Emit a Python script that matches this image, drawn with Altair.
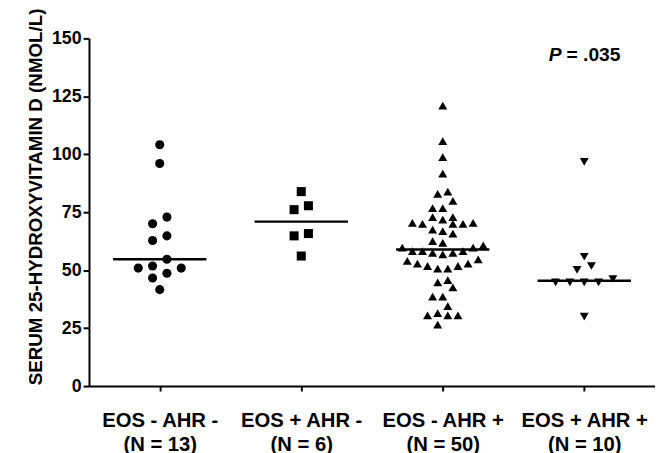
import altair as alt
import numpy as np
import pandas as pd

# ---------------- data ----------------
categories = ["EOS - AHR -", "EOS + AHR -", "EOS - AHR +", "EOS + AHR +"]

g1_values = [104.1, 96.0, 72.9, 70.0, 64.8, 62.8, 54.7, 51.8, 50.9, 48.7, 46.6, 50.9, 41.6]
g2_values = [83.9, 77.8, 76.1, 65.8, 64.8, 56.1]
g3_values = [121.0, 105.7, 98.8, 91.7, 82.9, 83.9, 79.9, 76.8, 76.8, 72.9, 72.9,
             70.4, 70.0, 70.0, 70.0, 70.4, 71.8, 66.8, 65.8, 67.5, 61.8, 62.5,
             59.7, 58.2, 58.2, 57.5, 57.5, 58.2, 59.7, 60.7,
             54.7, 52.8, 51.8, 50.7, 50.7, 51.8, 52.8, 54.0, 56.8,
             45.7, 44.7, 42.6, 38.6, 38.6, 34.5, 31.5, 30.5, 30.5, 30.5, 26.5]
g4_values = [96.7, 55.8, 51.8, 50.1, 44.7, 44.7, 44.7, 44.7, 46.2, 30.0]

p_value_text = "= .035"
y_title = "SERUM 25-HYDROXYVITAMIN D (NMOL/L)"

groups = [g1_values, g2_values, g3_values, g4_values]
shapes = ["circle", "square", "triangle-up", "triangle-down"]
sizes = [85, 81, 110, 110]

PLOT_W = 573
PLOT_H = 352
PX_PER_UNIT = PLOT_W / 4.0


def swarm_offsets(vals, row_h=5.0, max_span_px=82.0, max_step_px=14.5):
    """Scatter-dot layout: group values into rows, spread each row around the centre."""
    vals = np.asarray(vals, dtype=float)
    order = np.argsort(vals, kind="stable")
    rows, current, start = [], [], None
    for idx in order:
        v = vals[idx]
        if current and v < start + row_h:
            current.append(idx)
        else:
            if current:
                rows.append(current)
            current, start = [idx], v
    rows.append(current)
    maxn = max(len(r) for r in rows)
    step = min(max_step_px, max_span_px / (maxn - 1)) if maxn > 1 else max_step_px
    offs = np.zeros(len(vals))
    for r in rows:
        n = len(r)
        if n % 2 == 1:
            slots = [0] + [s for k in range(1, n // 2 + 1) for s in (-k, k)]
        else:
            slots = [s for k in range(n // 2) for s in (-(k + 0.5), k + 0.5)]
        for idx, s in zip(r, slots):
            offs[idx] = s * step / PX_PER_UNIT
    return offs


records = []
for i, (cat, vals) in enumerate(zip(categories, groups)):
    offs = swarm_offsets(vals)
    for v, o in zip(vals, offs):
        records.append({"group": cat, "pos": i + 1, "x": i + 1 + o, "value": v})
df = pd.DataFrame(records)

labels = [[c, f"(N = {len(g)})"] for c, g in zip(categories, groups)]
label_expr = " : ".join(
    f"datum.value == {i + 1} ? ['{a}', '{b}']" for i, (a, b) in enumerate(labels)
) + " : ''"

FONT = "Liberation Sans"

x_scale = alt.Scale(domain=[0.5, 4.5], nice=False, zero=False)
y_scale = alt.Scale(domain=[0, 150], nice=False, zero=True)

base = alt.Chart(df)

points = base.mark_point(filled=True, opacity=1, color="black", strokeWidth=0).encode(
    x=alt.X(
        "x:Q",
        scale=x_scale,
        axis=alt.Axis(
            values=[1, 2, 3, 4],
            labelExpr=label_expr,
            title=None,
            grid=False,
            domainColor="black",
            domainWidth=2,
            tickColor="black",
            tickWidth=2,
            tickSize=5,
            labelFont=FONT,
            labelFontSize=20.5,
            labelFontWeight="bold",
            labelColor="black",
            labelLineHeight=24,
            labelPadding=20,
            labelFlush=False,
            labelOverlap=False,
        ),
    ),
    y=alt.Y(
        "value:Q",
        scale=y_scale,
        axis=alt.Axis(
            values=[0, 25, 50, 75, 100, 125, 150],
            title=y_title,
            grid=False,
            domainColor="black",
            domainWidth=2,
            tickColor="black",
            tickWidth=2,
            tickSize=6,
            labelFont=FONT,
            labelFontSize=18,
            labelFontWeight="bold",
            labelColor="black",
            labelPadding=2,
            titleFont=FONT,
            titleFontSize=19,
            titleFontWeight="bold",
            titleColor="black",
            titlePadding=6,
            titleY=160,
        ),
    ),
    shape=alt.Shape("group:N", scale=alt.Scale(domain=categories, range=shapes), legend=None),
    size=alt.Size("group:N", scale=alt.Scale(domain=categories, range=sizes), legend=None),
)

medians = (
    base.transform_aggregate(med="median(value)", groupby=["group", "pos"])
    .transform_calculate(x1="datum.pos - 0.33", x2="datum.pos + 0.33")
    .mark_rule(color="black", strokeWidth=2.5)
    .encode(
        x=alt.X("x1:Q", scale=x_scale),
        x2="x2:Q",
        y=alt.Y("med:Q", scale=y_scale),
    )
)

p_df = pd.DataFrame({"p": ["P"], "rest": [p_value_text], "pos": [4.0], "yv": [142.8]})
p_italic = alt.Chart(p_df).mark_text(
    font=FONT, fontSize=19.5, fontWeight="bold", fontStyle="italic",
    align="right", baseline="middle", dx=-23, color="black",
).encode(x=alt.X("pos:Q", scale=x_scale), y=alt.Y("yv:Q", scale=y_scale), text="p:N")
p_rest = alt.Chart(p_df).mark_text(
    font=FONT, fontSize=19.5, fontWeight="bold",
    align="left", baseline="middle", dx=-18, color="black",
).encode(x=alt.X("pos:Q", scale=x_scale), y=alt.Y("yv:Q", scale=y_scale), text="rest:N")

chart = (
    alt.layer(points, medians, p_italic, p_rest)
    .properties(
        width=PLOT_W,
        height=PLOT_H,
        autosize=alt.AutoSizeParams(type="none"),
        padding={"left": 82, "top": 28, "right": 0, "bottom": 65},
        background="white",
    )
    .configure_view(stroke=None)
)

chart.save("out.html", embed_options={"renderer": "svg", "actions": False})
